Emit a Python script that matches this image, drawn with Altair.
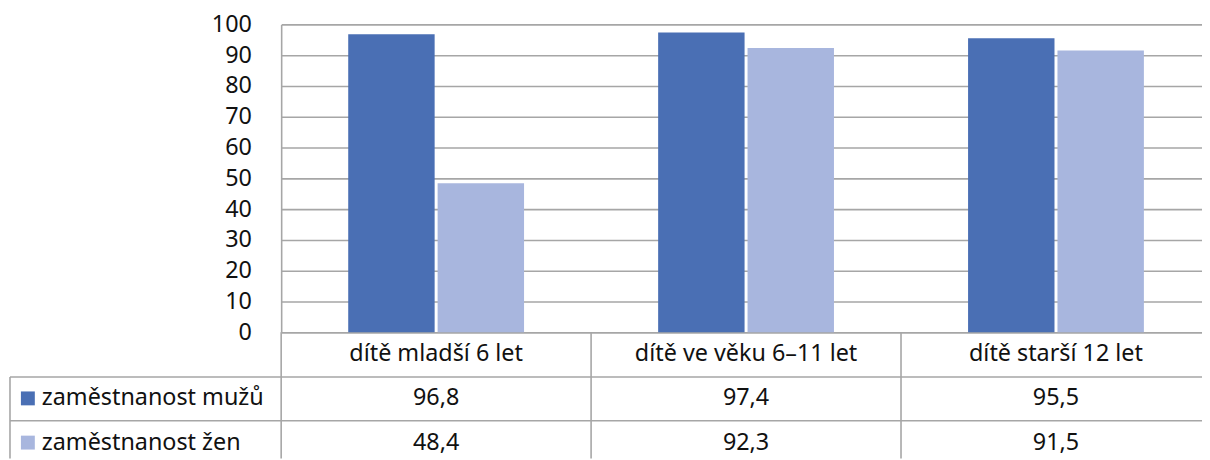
import altair as alt
import pandas as pd

categories = ["dítě mladší 6 let", "dítě ve věku 6–11 let", "dítě starší 12 let"]
series = ["zaměstnanost mužů", "zaměstnanost žen"]
men = [96.8, 97.4, 95.5]
women = [48.4, 92.3, 91.5]
y_ticks = [0, 10, 20, 30, 40, 50, 60, 70, 80, 90, 100]
colors = ["#4a6fb4", "#a8b6de"]
rows = ["header"] + series

FONT = "Noto Sans"
FS = 23.5
LINE = "#a6a6a6"
LW = 1.6
W = 936
H = 437
PLOT_H = 310

bars_df = pd.DataFrame({
    "cat": categories * 2,
    "series": [series[0]] * 3 + [series[1]] * 3,
    "value": men + women,
})
bars_df["label"] = bars_df["value"].map(lambda v: f"{v:.1f}".replace(".", ","))
bars_df["row"] = bars_df["series"]
header_df = pd.DataFrame({"cat": categories, "row": ["header"] * 3})
legend_df = pd.DataFrame({"series": series, "row": series})
one = pd.DataFrame({"k": [0]})

x_scale = alt.Scale(domain=categories, paddingInner=0, paddingOuter=0)
x_enc = alt.X("cat:N", sort=categories, scale=x_scale, axis=None)
row_scale = alt.Scale(type="point", domain=rows, range=[332, 421], padding=0)
row_enc = alt.Y("row:N", scale=row_scale, axis=None)
color_enc = alt.Color("series:N", scale=alt.Scale(domain=series, range=colors), legend=None)

bars = alt.Chart(bars_df).mark_bar().encode(
    x=x_enc,
    xOffset=alt.XOffset("series:N", sort=series,
                        scale=alt.Scale(domain=series, paddingInner=0.0333, paddingOuter=0.75)),
    y=alt.Y("value:Q",
            scale=alt.Scale(domain=[0, 100], range=[PLOT_H, 0], nice=False),
            axis=alt.Axis(values=y_ticks, grid=True, ticks=False, domain=True,
                          domainColor=LINE, domainWidth=LW,
                          gridColor=LINE, gridWidth=LW, labelPadding=30,
                          labelFont=FONT, labelFontSize=FS, labelColor="#111111",
                          title=None)),
    color=color_enc,
)

vlines = alt.Chart(header_df).mark_rule(color=LINE, strokeWidth=LW).encode(
    x=alt.X("cat:N", sort=categories, scale=x_scale, axis=None, bandPosition=0),
    y=alt.value(PLOT_H), y2=alt.value(H),
)
hline1 = alt.Chart(one).mark_rule(color=LINE, strokeWidth=LW).encode(
    x=alt.value(-273), x2=alt.value(W), y=alt.value(355))
hline2 = alt.Chart(one).mark_rule(color=LINE, strokeWidth=LW).encode(
    x=alt.value(-273), x2=alt.value(W), y=alt.value(399))
vleft = alt.Chart(one).mark_rule(color=LINE, strokeWidth=LW).encode(
    x=alt.value(-273), y=alt.value(355), y2=alt.value(H))

header_txt = alt.Chart(header_df).mark_text(font=FONT, fontSize=FS, baseline="middle",
                                            color="#111111").encode(
    x=x_enc, y=row_enc, text="cat:N")
val_txt = alt.Chart(bars_df).mark_text(font=FONT, fontSize=FS, baseline="middle",
                                       color="#111111").encode(
    x=x_enc, y=row_enc, text="label:N")
leg_sq = alt.Chart(legend_df).mark_square(size=196, opacity=1).encode(
    x=alt.value(-255), y=row_enc, color=color_enc)
leg_txt = alt.Chart(legend_df).mark_text(font=FONT, fontSize=FS, baseline="middle",
                                         align="left", color="#111111").encode(
    x=alt.value(-241), y=row_enc, text="series:N")

chart = alt.layer(
    vlines, hline1, hline2, vleft, bars, header_txt, val_txt, leg_sq, leg_txt
).resolve_scale(y="independent").properties(
    width=W, height=H,
    padding={"left": 275, "top": 15, "right": -9, "bottom": 0},
    autosize=alt.AutoSizeParams(type="none"),
).configure_view(stroke=None)

chart.save("out.html", embed_options={"renderer": "svg", "actions": False})
